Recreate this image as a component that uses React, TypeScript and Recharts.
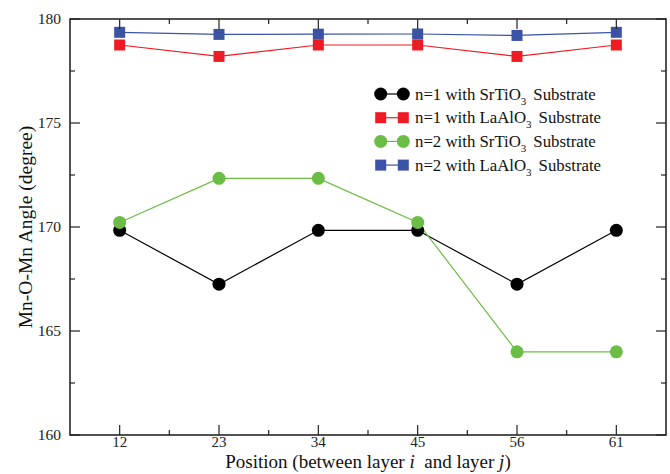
import React from 'react'
import { LineChart, Line, XAxis, YAxis, ReferenceArea, Legend, Label } from 'recharts'

// bond angle per interface position
const positions = ['12', '23', '34', '45', '56', '61']
const n1SrTiO3 = [169.84, 167.25, 169.84, 169.84, 167.25, 169.84]
const n1LaAlO3 = [178.75, 178.2, 178.75, 178.75, 178.2, 178.75]
const n2SrTiO3 = [170.22, 172.34, 172.34, 170.22, 164.0, 164.0]
const n2LaAlO3 = [179.36, 179.26, 179.27, 179.28, 179.21, 179.36]

const yTicks = [160, 162.5, 165, 167.5, 170, 172.5, 175, 177.5, 180]
const xTicks = [0, 0.5, 1, 1.5, 2, 2.5, 3, 3.5, 4, 4.5, 5]

const W = 670
const H = 474
const PLOT = { left: 70, right: 666, top: 19, bottom: 435 }
const FONT = '"Liberation Serif", "DejaVu Serif", serif'
const serif = { fontFamily: FONT }

type Shape = 'circle' | 'square'
const series: { key: string; n: number; sub: string; values: number[]; color: string; shape: Shape }[] = [
  { key: 'n1s', n: 1, sub: 'SrTiO', values: n1SrTiO3, color: '#000000', shape: 'circle' },
  { key: 'n1l', n: 1, sub: 'LaAlO', values: n1LaAlO3, color: '#ed1c24', shape: 'square' },
  { key: 'n2s', n: 2, sub: 'SrTiO', values: n2SrTiO3, color: '#6cbd45', shape: 'circle' },
  { key: 'n2l', n: 2, sub: 'LaAlO', values: n2LaAlO3, color: '#3a53a4', shape: 'square' },
]

const data = positions.map((p, i) => {
  const row: Record<string, number | string> = { idx: i, pos: p }
  series.forEach((s) => {
    row[s.key] = s.values[i]
  })
  return row
})

function Marker({ cx, cy, color, shape }: { cx: number; cy: number; color: string; shape: Shape }) {
  if (shape === 'circle') return <circle cx={cx} cy={cy} r={6.5} fill={color} />
  return <rect x={cx - 5.5} y={cy - 5.5} width={11} height={11} fill={color} />
}

// inward ticks on both the left and right frame edges
function YTick(props: any) {
  const { y, payload } = props
  const major = payload.value % 5 === 0
  const len = major ? 10 : 5
  return (
    <g>
      <line x1={PLOT.left} x2={PLOT.left + len} y1={y} y2={y} stroke="#222" strokeWidth={1.2} />
      <line x1={PLOT.right - len} x2={PLOT.right} y1={y} y2={y} stroke="#222" strokeWidth={1.2} />
      {major && (
        <text x={PLOT.left - 9} y={y + 5} textAnchor="end" style={serif} fontSize={15.5} fill="#222">
          {payload.value}
        </text>
      )}
    </g>
  )
}

// inward ticks on both the bottom and top frame edges
function XTick(props: any) {
  const { x, payload } = props
  const major = Number.isInteger(payload.value)
  const len = major ? 10 : 5
  return (
    <g>
      <line x1={x} x2={x} y1={PLOT.bottom} y2={PLOT.bottom - len} stroke="#222" strokeWidth={1.2} />
      <line x1={x} x2={x} y1={PLOT.top} y2={PLOT.top + len} stroke="#222" strokeWidth={1.2} />
      {major && (
        <text x={x} y={PLOT.bottom + 12} textAnchor="middle" style={serif} fontSize={15} fill="#222">
          {positions[payload.value]}
        </text>
      )}
    </g>
  )
}

function LegendBox() {
  const ox = 360
  const oy = 80
  return (
    <svg width={260} height={100} style={{ display: 'block' }}>
      {series.map((s, i) => {
        const y = 94 - oy + i * 23.7
        const x1 = 380.7 - ox
        const x2 = 403.3 - ox
        return (
          <g key={s.key}>
            <line x1={x1} x2={x2} y1={y} y2={y} stroke={s.color} strokeWidth={1.2} />
            <Marker cx={x1} cy={y} color={s.color} shape={s.shape} />
            <Marker cx={x2} cy={y} color={s.color} shape={s.shape} />
            <text x={415 - ox} y={y + 5.5} style={serif} fontSize={16.8} fill="#111">
              {`n=${s.n} with ${s.sub}`}
              <tspan fontSize={11} dy={5}>3</tspan>
              <tspan dy={-5} dx={7}>Substrate</tspan>
            </text>
          </g>
        )
      })}
    </svg>
  )
}

export default function App() {
  return (
    <div style={{ position: 'absolute', left: 0, top: 0, width: W, height: H, background: '#fff', fontFamily: FONT }}>
      <LineChart width={W} height={H} data={data} margin={{ top: PLOT.top, right: W - PLOT.right, left: 0, bottom: 0 }}>
        <XAxis
          type="number"
          dataKey="idx"
          domain={[-0.5, 5.5]}
          ticks={xTicks}
          interval={0}
          allowDataOverflow
          axisLine={false}
          tickLine={false}
          tickSize={0}
          tickMargin={0}
          height={H - PLOT.bottom}
          tick={(p: any) => <XTick {...p} />}
        >
          <Label
            content={({ viewBox }: any) => (
              <text
                x={viewBox.x + viewBox.width / 2}
                y={viewBox.y + 33}
                textAnchor="middle"
                style={{ ...serif, whiteSpace: 'pre' }}
                fontSize={19}
                fill="#111"
              >
                Position (between layer <tspan fontStyle="italic">i</tspan>  and layer <tspan fontStyle="italic">j</tspan>)
              </text>
            )}
          />
        </XAxis>
        <YAxis
          type="number"
          domain={[160, 180]}
          ticks={yTicks}
          interval={0}
          allowDataOverflow
          axisLine={false}
          tickLine={false}
          tickSize={0}
          tickMargin={0}
          width={PLOT.left}
          tick={(p: any) => <YTick {...p} />}
        >
          <Label
            content={({ viewBox }: any) => {
              const cy = viewBox.y + viewBox.height / 2
              return (
                <text
                  x={25}
                  y={cy}
                  transform={`rotate(-90 25 ${cy})`}
                  textAnchor="middle"
                  dominantBaseline="central"
                  style={serif}
                  fontSize={19.5}
                  fill="#111"
                >
                  Mn-O-Mn Angle (degree)
                </text>
              )
            }}
          />
        </YAxis>
        <ReferenceArea
          x1={-0.5}
          x2={5.5}
          y1={160}
          y2={180}
          fill="none"
          fillOpacity={0}
          stroke="#1a1a1a"
          strokeWidth={1.5}
          ifOverflow="visible"
        />
        {series.map((s) => (
          <Line
            key={s.key}
            type="linear"
            dataKey={s.key}
            stroke={s.color}
            strokeWidth={1.2}
            isAnimationActive={false}
            dot={(p: any) => (
              <Marker key={`${s.key}-${p.index}`} cx={p.cx} cy={p.cy} color={s.color} shape={s.shape} />
            )}
            activeDot={false}
          />
        ))}
        <Legend
          layout="vertical"
          align="center"
          verticalAlign="middle"
          wrapperStyle={{ position: 'absolute', left: 360, top: 80, width: 260, height: 100 }}
          content={() => <LegendBox />}
        />
      </LineChart>
    </div>
  )
}
